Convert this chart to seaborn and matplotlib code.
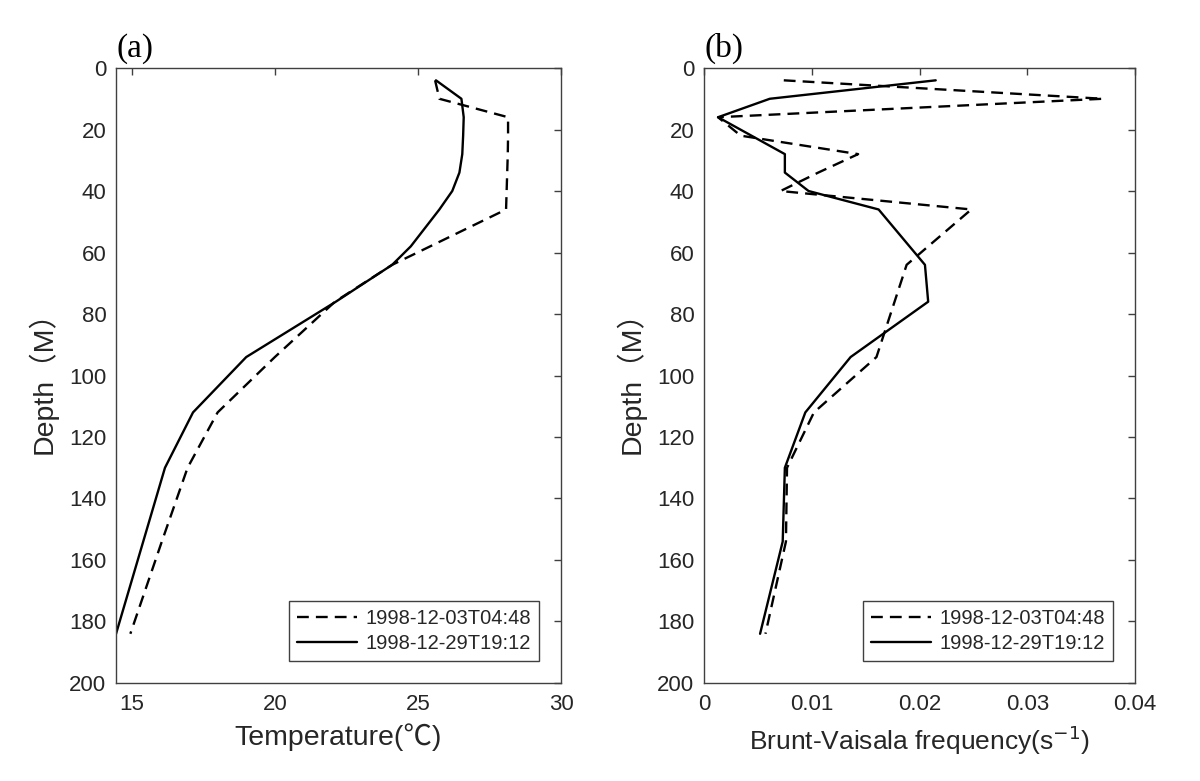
import numpy as np
import pandas as pd
import matplotlib
matplotlib.use("Agg")
import matplotlib.pyplot as plt
from matplotlib.lines import Line2D
import seaborn as sns

# ---------------- data ----------------
series_names = ["1998-12-03T04:48", "1998-12-29T19:12"]

# panel (a) temperature profiles
temp_depth_1 = [4, 10, 16, 22, 28, 34, 40, 46, 64, 76, 94, 112, 130, 154, 184]
temp_vals_1 = [25.6, 25.75, 28.15, 28.15, 28.14, 28.12, 28.1, 28.08, 24.1, 22.1,
               20.0, 18.0, 16.95, 16.05, 14.95]
temp_depth_2 = [4, 10, 16, 22, 28, 34, 40, 46, 52, 58, 64, 76, 94, 112, 130, 154, 184]
temp_vals_2 = [25.63, 26.52, 26.6, 26.58, 26.55, 26.45, 26.2, 25.75, 25.25, 24.75,
               24.1, 22.13, 19.0, 17.14, 16.16, 15.4, 14.45]

# panel (b) Brunt-Vaisala frequency profiles
bv_depth_1 = [4, 10, 16, 22, 28, 34, 40, 46, 64, 94, 112, 130, 154, 184]
bv_vals_1 = [0.0074, 0.0370, 0.0013, 0.0034, 0.0143, 0.0106, 0.0071, 0.0248,
             0.0188, 0.0160, 0.0102, 0.0077, 0.0076, 0.0057]
bv_depth_2 = [4, 10, 16, 28, 34, 40, 46, 64, 76, 94, 112, 130, 154, 184]
bv_vals_2 = [0.0215, 0.0061, 0.0013, 0.0075, 0.0075, 0.0097, 0.0162, 0.0205,
             0.0208, 0.0136, 0.0094, 0.0075, 0.0073, 0.0052]

temp_ticks = [15, 20, 25, 30]
bv_ticks = [0, 0.01, 0.02, 0.03, 0.04]
bv_tick_labels = ["0", "0.01", "0.02", "0.03", "0.04"]
depth_ticks = [0, 20, 40, 60, 80, 100, 120, 140, 160, 180, 200]

# ---------------- style ----------------
sns.set_style("white")
plt.rcParams["font.family"] = ["Liberation Sans", "Noto Sans CJK SC", "DejaVu Sans"]
plt.rcParams["axes.edgecolor"] = "#404040"
plt.rcParams["axes.linewidth"] = 1.0
plt.rcParams["xtick.color"] = "#404040"
plt.rcParams["ytick.color"] = "#404040"
plt.rcParams["xtick.labelcolor"] = "#262626"
plt.rcParams["ytick.labelcolor"] = "#262626"

df_a = pd.concat([
    pd.DataFrame({"depth": temp_depth_1, "val": temp_vals_1, "series": series_names[0]}),
    pd.DataFrame({"depth": temp_depth_2, "val": temp_vals_2, "series": series_names[1]}),
], ignore_index=True)
df_b = pd.concat([
    pd.DataFrame({"depth": bv_depth_1, "val": bv_vals_1, "series": series_names[0]}),
    pd.DataFrame({"depth": bv_depth_2, "val": bv_vals_2, "series": series_names[1]}),
], ignore_index=True)

fig = plt.figure(figsize=(12, 7.81), dpi=100)
ax_a = fig.add_axes([0.0967, 0.1255, 0.3708, 0.7874])
ax_b = fig.add_axes([0.5867, 0.1255, 0.3592, 0.7874])

palette = {series_names[0]: "black", series_names[1]: "black"}
dash_map = {series_names[0]: (5, 3), series_names[1]: ""}

for ax, df in [(ax_a, df_a), (ax_b, df_b)]:
    sns.lineplot(data=df, x="val", y="depth", hue="series", style="series",
                 palette=palette, dashes=dash_map, sort=False, estimator=None,
                 orient="y", linewidth=1.7, ax=ax, legend=False)

tick_font = 16
label_font = 20.5

for ax in (ax_a, ax_b):
    ax.set_ylim(200, 0)
    ax.set_yticks(depth_ticks)
    ax.tick_params(direction="in", top=True, right=True, length=5, width=1.0,
                   labelsize=tick_font, pad=7)
    ax.tick_params(axis="x", pad=8)
    ax.set_ylabel("Depth（M）", fontsize=label_font, labelpad=8)
    for s in ax.spines.values():
        s.set_visible(True)
    handles = [Line2D([], [], color="black", lw=1.7, dashes=(5, 3)),
               Line2D([], [], color="black", lw=1.7)]
    leg = ax.legend(handles, series_names, loc="lower right", fontsize=14.5,
                    frameon=True, fancybox=False, edgecolor="#404040",
                    framealpha=1, handlelength=3.0, borderaxespad=1.1,
                    borderpad=0.4, labelspacing=0.3, handletextpad=0.4)
    leg.get_frame().set_linewidth(1.0)

ax_a.set_xlim(14.45, 30)
ax_a.set_xticks(temp_ticks)
ax_a.set_xlabel("Temperature(℃)", fontsize=label_font, labelpad=6)

ax_b.set_xlim(0, 0.04)
ax_b.set_xticks(bv_ticks)
ax_b.set_xticklabels(bv_tick_labels)
ax_b.set_xlabel("Brunt-Vaisala frequency(s$^{-1}$)", fontsize=19, labelpad=6)

for ax, lab in [(ax_a, "(a)"), (ax_b, "(b)")]:
    ax.text(0.0, 1.006, lab, transform=ax.transAxes, ha="left", va="bottom",
            fontsize=24, family=["Liberation Serif", "DejaVu Serif"], color="black")

fig.savefig("out.png", dpi=100)
